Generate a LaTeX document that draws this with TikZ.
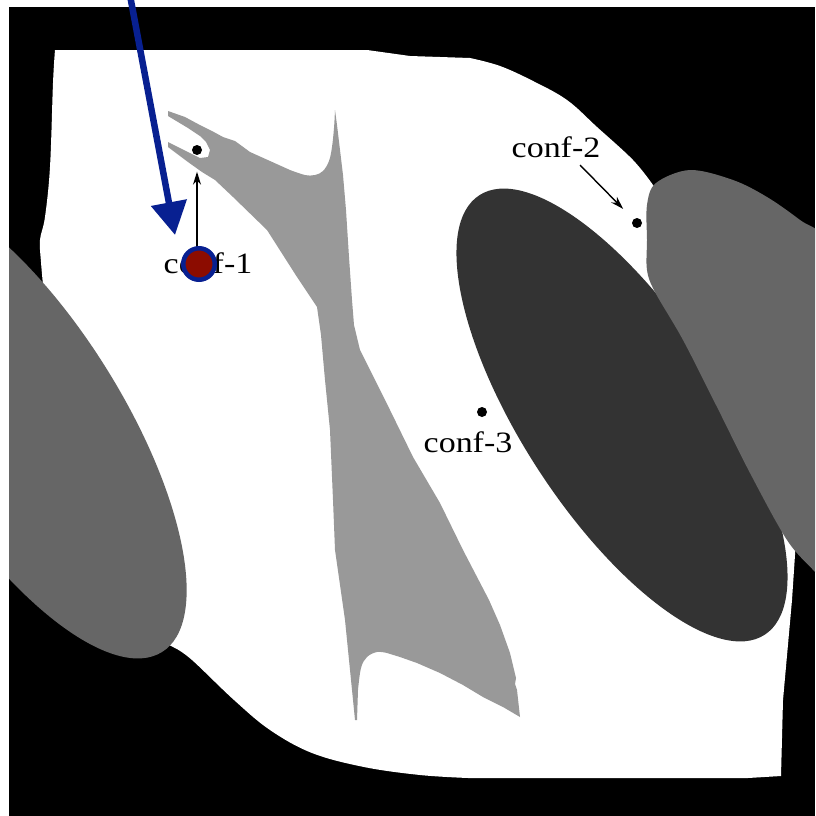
\documentclass[tikz,border=0pt]{standalone}
\usepackage{fontspec}
\setmainfont{Liberation Serif}
\usetikzlibrary{arrows.meta,calc}
\definecolor{obsA}{RGB}{153,153,153}
\definecolor{obsB}{RGB}{102,102,102}
\definecolor{obsC}{RGB}{51,51,51}
\definecolor{navyblue}{RGB}{8,32,145}
\definecolor{robotred}{RGB}{140,12,0}
\newcommand{\confwide}[1]{\scalebox{1.15}[1]{#1}}
\begin{document}
\begin{tikzpicture}[x=0.1mm,y=-0.1mm,
  confdot/.style={circle,fill=black,inner sep=0pt,minimum size=1mm},
  conftext/.style={inner sep=0pt,anchor=base,font=\fontsize{8.4}{10}\selectfont},
  thinarrow/.style={-{Stealth[length=1.3mm,width=0.8mm]},line width=0.4pt},
  bluearrow/.style={draw=navyblue,line width=0.65mm,-{Triangle[length=3.3mm,width=3.5mm]}},
  robot/.style={circle,fill=robotred,draw=navyblue,line width=0.45mm,minimum size=3.15mm,inner sep=0pt}]
\useasboundingbox (0,0) rectangle (815,816);
\fill[black] (9,7) rectangle (815,816);
\begin{scope}
\clip (9,7) rectangle (815,816);
% free space
\fill[white] (55,50) -- (367,50) -- (410,56) --
  plot[smooth,tension=0.6] coordinates {(470,58) (500,66) (533,81) (567,100) (597,127) (633,160) (653,185)}
  -- (720,260) -- (790,400) -- (796,540) -- (792,600) -- (783,700) -- (781,776) -- (748,778) --
  plot[smooth,tension=0.6] coordinates {(468,778) (420,775) (364,767) (312,753) (270,730) (234,700) (192,660) (175,648)}
  -- (80,600) -- (40,420) --
  plot[smooth,tension=0.6] coordinates {(43,285) (41,262) (40,240) (45,217) (50,167) (53,83) (55,50)} -- cycle;
% middle obstacle
\fill[obsA] (168,111) -- (185,117) -- (198,124) -- (212,131) -- (223,137) -- (235,141) -- (250,152)
  -- plot[smooth,tension=0.6] coordinates {(290,170) (305,175) (315,175) (323,171) (329,161) (332,147) (334,128) (335,110)}
  -- (337,125) -- (340,150) -- (343,175) -- (346,210) -- (349,257) -- (352,300) -- (354,325)
  -- (360,350) -- (370,370) -- (390,410) -- (413,457) -- (440,503) -- (463,550) -- (489,600)
  -- (500,625) -- (510,653) -- (516,678) -- (515,684) -- (517,690) -- (520,717)
  -- (503,707) -- (483,697) -- (463,685) -- (440,673) -- (417,663) -- (400,657)
  -- plot[smooth,tension=0.6] coordinates {(387,653) (377,652) (367,657) (361,668) (358,690)}
  -- (357,720) -- (355,720) -- (350,670) -- (345,620)
  -- (335,550) -- (333,500) -- (330,430) -- (325,380) -- (321,335) -- (317,307) -- (297,277)
  -- (267,230) -- (233,197) -- (215,180) -- (202,172) -- (188,162) -- (168,147)
  -- (168,142) -- (190,153) -- (200,158) -- (208,157) -- (210,150) -- (206,142) -- (200,136)
  -- (188,128) -- (168,116) -- cycle;
% dark obstacle
\fill[obsC,shift={(622,415)},rotate=-57] (0,0) ellipse [x radius=26.2mm,y radius=10mm];
% right obstacle
\fill[obsB] plot[smooth cycle,tension=0.55] coordinates {
  (647,240) (647,205) (656,183) (690,170) (733,180) (767,197) (800,220) (830,245) (880,350)
  (880,560) (840,600) (815,572) (787,540) (750,473) (717,407) (683,340) (655,292) (647,270)};
% left obstacle
\fill[obsB,shift={(19,423)},rotate=-58] (0,0) ellipse [x radius=27mm,y radius=10.3mm];
\end{scope}
% configurations
\node[confdot] (d1) at (197,150) {};
\node[confdot] (d2) at (637,223) {};
\node[confdot] (d3) at (482,412) {};
\node[conftext] (t1) at (208,273) {\confwide{conf-1}};
\node[conftext] (t2) at (556,157) {\confwide{conf-2}};
\node[conftext] (t3) at (468,452) {\confwide{conf-3}};
\draw[thinarrow,shorten >=1.6mm] (t1.north -| d1) -- (d1);
\draw[thinarrow,shorten >=1.4mm] ($(t2.base)+(24,8)$) -- (d2);
% robot marker
\node[robot] (rob) at (199,264) {};
\coordinate (bstart) at (129,-10);
\coordinate (btip) at (175,235);
\draw[bluearrow] (bstart) -- (btip);
\end{tikzpicture}
\end{document}
